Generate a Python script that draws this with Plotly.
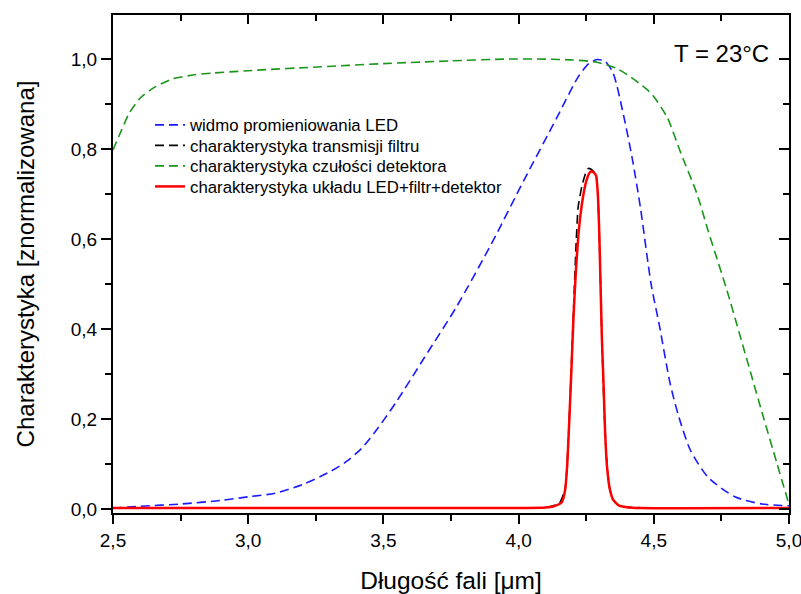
import plotly.graph_objects as go

# ---- data ----
led_x = [2.50, 2.60, 2.75, 2.90, 3.00, 3.10, 3.20, 3.30, 3.36, 3.42, 3.48, 3.55, 3.65, 3.77,
         3.90, 4.02, 4.14, 4.22, 4.26, 4.29, 4.32, 4.35, 4.39, 4.42, 4.45, 4.49, 4.52,
         4.56, 4.59, 4.635, 4.70, 4.80, 4.90, 5.00]
led_y = [0.002, 0.006, 0.011, 0.019, 0.027, 0.035, 0.054, 0.082, 0.104, 0.135, 0.180, 0.240, 0.335, 0.449,
         0.590, 0.731, 0.868, 0.960, 0.990, 0.999, 0.995, 0.968, 0.870, 0.780, 0.672, 0.500, 0.410,
         0.280, 0.210, 0.131, 0.071, 0.027, 0.011, 0.007]

filt_x = [2.50, 3.00, 3.50, 4.00, 4.10, 4.15, 4.172, 4.188, 4.203, 4.212, 4.22, 4.235, 4.25,
          4.258, 4.268, 4.28, 4.287, 4.293, 4.298, 4.303, 4.308, 4.313, 4.32, 4.328, 4.337,
          4.35, 4.37, 4.40, 4.50, 5.00]
filt_y = [0.002, 0.002, 0.002, 0.002, 0.003, 0.012, 0.045, 0.210, 0.440, 0.580, 0.670, 0.720, 0.750,
          0.757, 0.755, 0.748, 0.740, 0.700, 0.620, 0.500, 0.380, 0.280, 0.170, 0.093, 0.045,
          0.020, 0.008, 0.004, 0.002, 0.002]

det_x = [2.50, 2.53, 2.56, 2.60, 2.65, 2.72, 2.80, 2.87, 3.05, 3.24, 3.50, 3.75, 3.95, 4.10,
         4.20, 4.29, 4.36, 4.41, 4.49, 4.55, 4.60, 4.66, 4.70, 4.77, 4.82, 4.90, 4.956, 5.00]
det_y = [0.798, 0.840, 0.880, 0.913, 0.936, 0.956, 0.965, 0.969, 0.976, 0.982, 0.990, 0.996, 1.000, 1.000,
         0.998, 0.993, 0.980, 0.962, 0.924, 0.870, 0.791, 0.700, 0.620, 0.487, 0.383, 0.215, 0.100, 0.010]

sys_x = [2.50, 3.00, 3.50, 4.00, 4.10, 4.13, 4.16, 4.172, 4.18, 4.188, 4.196, 4.203, 4.212, 4.22,
         4.228, 4.24, 4.25, 4.26, 4.267, 4.278, 4.287, 4.293, 4.298, 4.303, 4.308, 4.314, 4.32,
         4.327, 4.337, 4.35, 4.37, 4.40, 4.45, 5.00]
sys_y = [0.002, 0.002, 0.002, 0.002, 0.003, 0.006, 0.015, 0.042, 0.100, 0.205, 0.320, 0.427, 0.530, 0.600,
         0.650, 0.700, 0.728, 0.745, 0.750, 0.748, 0.740, 0.700, 0.620, 0.500, 0.380, 0.280, 0.170,
         0.094, 0.045, 0.020, 0.008, 0.004, 0.002, 0.002]

names = ["widmo promieniowania LED",
         "charakterystyka transmisji filtru",
         "charakterystyka czułości detektora",
         "charakterystyka układu LED+filtr+detektor"]

x_ticks = [2.5, 3.0, 3.5, 4.0, 4.5, 5.0]
y_ticks = [0.0, 0.2, 0.4, 0.6, 0.8, 1.0]

FONT = "Liberation Sans, Arial, sans-serif"
DASH = "9px,5px"

fig = go.Figure()
fig.add_trace(go.Scatter(x=led_x, y=led_y, mode="lines", name=names[0], legend="legend",
                         line=dict(color="#1a1aff", width=1.6, dash=DASH, shape="spline", smoothing=0.7)))
fig.add_trace(go.Scatter(x=filt_x, y=filt_y, mode="lines", name=names[1], legend="legend2",
                         line=dict(color="black", width=1.6, dash=DASH, shape="spline", smoothing=0.5)))
fig.add_trace(go.Scatter(x=det_x, y=det_y, mode="lines", name=names[2], legend="legend3",
                         line=dict(color="#1a961a", width=1.6, dash=DASH, shape="spline", smoothing=0.6)))
fig.add_trace(go.Scatter(x=sys_x, y=sys_y, mode="lines", name=names[3], legend="legend4",
                         line=dict(color="#ff0000", width=2.5, shape="spline", smoothing=0.5)))
# dummy trace for the mirrored top/right axes
fig.add_trace(go.Scatter(x=[None], y=[None], xaxis="x2", yaxis="y2", showlegend=False, hoverinfo="skip"))

L, R, T, B = 113, 12, 15, 81
W, H = 801, 594
pw, ph = W - L - R, H - T - B

def ypaper(py):
    return (H - B - py) / ph

def xpaper(px):
    return (px - L) / pw

leg_common = dict(x=xpaper(150), xanchor="left", yanchor="middle", bgcolor="rgba(0,0,0,0)",
                  borderwidth=0, font=dict(family=FONT, size=16.8, color="black"))

yr = [-0.009, 1.098]
xr = [2.5, 5.0]

fig.update_layout(
    width=W, height=H,
    margin=dict(l=L, r=R, t=T, b=B, pad=0, autoexpand=False),
    paper_bgcolor="white", plot_bgcolor="white",
    separators=", ",
    font=dict(family=FONT, color="black"),
    legend=dict(y=ypaper(125), **leg_common),
    legend2=dict(y=ypaper(145.5), **leg_common),
    legend3=dict(y=ypaper(166), **leg_common),
    legend4=dict(y=ypaper(186.5), **leg_common),
    xaxis=dict(range=xr, showgrid=False, zeroline=False, showline=True, linecolor="black", linewidth=2,
               automargin=False, ticklabeloverflow="allow",
               ticks="outside", ticklen=9, tickwidth=1.5, tickcolor="black",
               tickvals=x_ticks, tickformat=".1f",
               tickfont=dict(family=FONT, size=19, color="black"),
               minor=dict(dtick=0.25, tick0=2.5, ticks="outside", ticklen=6, tickwidth=1.5, tickcolor="black", showgrid=False),
               title=dict(text="Długość fali [μm]", font=dict(family=FONT, size=24.5, color="black"), standoff=28)),
    yaxis=dict(range=yr, showgrid=False, zeroline=False, showline=True, linecolor="black", linewidth=2,
               automargin=False,
               ticks="outside", ticklen=10, tickwidth=1.5, tickcolor="black",
               tickvals=y_ticks, tickformat=".1f",
               tickfont=dict(family=FONT, size=19, color="black"),
               minor=dict(dtick=0.1, tick0=0, ticks="outside", ticklen=6, tickwidth=1.5, tickcolor="black", showgrid=False),
               title=dict(text="Charakterystyka [znormalizowana]", font=dict(family=FONT, size=24, color="black"), standoff=29)),
    xaxis2=dict(overlaying="x", side="top", anchor="y", range=xr, showgrid=False, zeroline=False,
                automargin=False,
                showline=True, linecolor="black", linewidth=2, showticklabels=False,
                ticks="inside", ticklen=9, tickwidth=1.5, tickcolor="black", tickvals=x_ticks,
                minor=dict(dtick=0.25, tick0=2.5, ticks="inside", ticklen=6, tickwidth=1.5, tickcolor="black", showgrid=False)),
    yaxis2=dict(overlaying="y", side="right", anchor="x", range=yr, showgrid=False, zeroline=False,
                automargin=False,
                showline=True, linecolor="black", linewidth=2, showticklabels=False,
                ticks="inside", ticklen=10, tickwidth=1.5, tickcolor="black", tickvals=y_ticks,
                minor=dict(dtick=0.1, tick0=0, ticks="inside", ticklen=6, tickwidth=1.5, tickcolor="black", showgrid=False)),
    annotations=[dict(text="T = 23°C", xref="paper", yref="paper", x=xpaper(771), y=ypaper(54),
                      xanchor="right", yanchor="middle", showarrow=False,
                      font=dict(family=FONT, size=24, color="black"))],
)

fig.write_html("out.html")
